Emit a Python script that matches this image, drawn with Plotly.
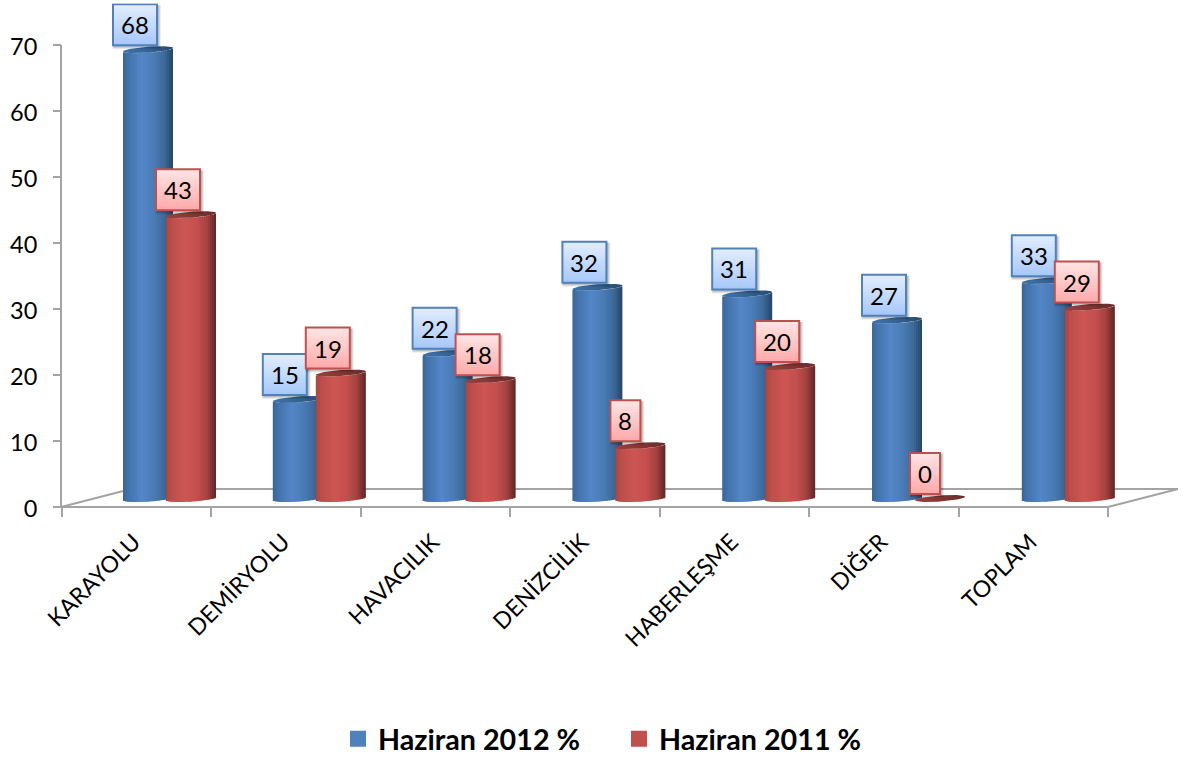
import numpy as np
import plotly.graph_objects as go

categories = ["KARAYOLU", "DEMİRYOLU", "HAVACILIK", "DENİZCİLİK", "HABERLEŞME", "DİĞER", "TOPLAM"]
values_2012 = [68, 15, 22, 32, 31, 27, 33]
values_2011 = [43, 19, 18, 8, 20, 0, 29]
series_names = ["Haziran 2012 %", "Haziran 2011 %"]
y_ticks = [0, 10, 20, 30, 40, 50, 60, 70]

W, H = 1184, 758
FONT = "Lato"
GRAY = "#a3a3a3"
X_UNIT, Y_UNIT = 149.8, 6.6
BAR_W = 50
N_STRIPS = 25
Y2_MIN, Y2_MAX = -1, 75


def lerp_color(stops, t):
    xs = [s[0] for s in stops]
    chans = [np.interp(t, xs, [int(s[1][i:i + 2], 16) for s in stops]) for i in (1, 3, 5)]
    return "rgb(%d,%d,%d)" % tuple(int(round(c)) for c in chans)


BLUE_STOPS = [(0, "#3a6698"), (0.12, "#4474ac"), (0.38, "#5486c8"), (0.62, "#4a7bb6"), (0.82, "#3d6a9b"), (1, "#274564")]
RED_STOPS = [(0, "#a84644"), (0.12, "#bd4e4b"), (0.38, "#cd5653"), (0.62, "#c44f4d"), (0.82, "#a44240"), (1, "#5a2725")]
BLUE_CAP = [[0, "#3f72ac"], [0.5, "#346396"], [1, "#264a70"]]
RED_CAP = [[0, "#9c3f3d"], [0.5, "#843634"], [1, "#672b29"]]


def arc_px(u):
    return 1.75 * u - 3.0 * np.sqrt(np.clip(1 - u * u, 0, 1))


fig = go.Figure()

# axis-carrying trace
fig.add_trace(go.Scatter(x=categories, y=[None] * 7, mode="markers", showlegend=False,
                         hoverinfo="skip", xaxis="x", yaxis="y"))
for name, c in zip(series_names, ["#4f81bd", "#c0504d"]):
    fig.add_trace(go.Scatter(x=[categories[0]], y=[None], mode="markers", name=name,
                             marker=dict(symbol="square", size=17, color=c), xaxis="x", yaxis="y"))

series = [(values_2012, -21.5, BLUE_STOPS, BLUE_CAP, 1), (values_2011, 21.5, RED_STOPS, RED_CAP, 3)]
idx = np.arange(len(categories), dtype=float)
for vals, dx_px, stops, cap, z in series:
    strip_w = BAR_W / N_STRIPS
    for k in range(N_STRIPS):
        left_px = dx_px - BAR_W / 2 + k * strip_w
        u = (left_px + strip_w / 2 - dx_px) / (BAR_W / 2)
        extra = 1.5 if k < N_STRIPS - 1 else 0
        fig.add_trace(go.Bar(
            x=idx, y=vals, base=[arc_px(u) / Y_UNIT] * len(vals),
            width=(strip_w + extra) / X_UNIT, offset=left_px / X_UNIT,
            marker=dict(color=lerp_color(stops, (k + 0.5) / N_STRIPS), line=dict(width=0)),
            showlegend=False, hoverinfo="skip", cliponaxis=False, zorder=z,
            xaxis="x2", yaxis="y2"))
    t = np.linspace(0, 2 * np.pi, 61)
    for i, v in enumerate(vals):
        fig.add_trace(go.Scatter(
            x=i + (dx_px + BAR_W / 2 * np.cos(t)) / X_UNIT,
            y=v + (1.75 * np.cos(t) + 3.0 * np.sin(t)) / Y_UNIT,
            mode="lines", line=dict(width=0), fill="toself",
            fillgradient=dict(type="horizontal", colorscale=cap),
            showlegend=False, hoverinfo="skip", cliponaxis=False, zorder=z + 1,
            xaxis="x2", yaxis="y2"))

# floor and axis lines
shapes = [dict(type="path", xref="paper", yref="paper", layer="below",
               path="M %f %f L %f %f L %f %f" % (61 / W, 1 - 507 / H, 131 / W, 1 - 489 / H, 1178 / W, 1 - 489 / H),
               line=dict(color=GRAY, width=2)),
          dict(type="path", xref="paper", yref="paper", layer="below",
               path="M %f %f L %f %f L %f %f L %f %f" % (61 / W, 1 - 45 / H, 61 / W, 1 - 507 / H,
                                                          1108 / W, 1 - 507 / H, 1178 / W, 1 - 489 / H),
               line=dict(color=GRAY, width=2))]

# value labels
annotations = []
BOX_STYLES = [("#4f81bd", "#e3eeff", "#a6c7fa"), ("#c0504d", "#ffe6e6", "#ffa8a8")]
BOX_H = 41
for (vals, dx_px, _, _, _), (border, top, bottom) in zip(series, BOX_STYLES):
    for i, v in enumerate(vals):
        w = 44 if v >= 10 else 30
        cx = dx_px - (13 if v >= 10 else 15)
        anchor = dict(xref="x2", yref="y2", xsizemode="pixel", ysizemode="pixel",
                      xanchor=float(i), yanchor=float(v), layer="above")
        for off, alpha in ((3, 0.07), (2, 0.10), (1, 0.12)):
            shapes.append(dict(type="rect", x0=cx - w / 2 + 1 - off / 2, x1=cx + w / 2 + 1 + off,
                               y0=4.5 - off - 1, y1=4.5 + BOX_H - 1,
                               fillcolor="rgba(0,0,0,%g)" % alpha, line=dict(width=0), **anchor))
        bands = 14
        for b in range(bands):
            ext = 1.5 if b < bands - 1 else 0
            shapes.append(dict(type="rect", x0=cx - w / 2, x1=cx + w / 2,
                               y0=4.5 + BOX_H * (1 - (b + 1) / bands) - ext, y1=4.5 + BOX_H * (1 - b / bands),
                               fillcolor=lerp_color([(0, top), (1, bottom)], (b + 0.5) / bands),
                               line=dict(width=0), **anchor))
        shapes.append(dict(type="rect", x0=cx - w / 2, x1=cx + w / 2, y0=4.5, y1=4.5 + BOX_H,
                           fillcolor="rgba(0,0,0,0)", line=dict(color=border, width=2), **anchor))
        annotations.append(dict(text=str(v), xref="x2", yref="y2", x=float(i), y=float(v),
                                xshift=cx, yshift=4.5 + BOX_H / 2, showarrow=False,
                                xanchor="center", yanchor="middle",
                                font=dict(family=FONT, size=24, color="black")))

fig.update_layout(
    width=W, height=H, margin=dict(l=0, r=0, t=0, b=0, autoexpand=False),
    paper_bgcolor="white", plot_bgcolor="rgba(0,0,0,0)",
    barmode="overlay", shapes=shapes, annotations=annotations,
    font=dict(family=FONT, color="black"),
    xaxis=dict(domain=[62 / W, 1108 / W], type="category", categoryorder="array", categoryarray=categories,
               range=[-0.5, 6.5], tickson="boundaries", ticks="outside", ticklen=9, tickwidth=2, tickcolor=GRAY,
               showline=False, showgrid=False, tickangle=-45,
               ticklabelstandoff=16, ticklabelshift=-3, automargin=False,
               tickfont=dict(family=FONT, size=23, color="black"), anchor="y", zeroline=False),
    yaxis=dict(domain=[1 - 507 / H, 1 - 45 / H], range=[0, 70], tickvals=y_ticks,
               ticks="outside", ticklen=8, tickwidth=2, tickcolor=GRAY,
               showline=False, showgrid=False, zeroline=False,
               ticklabelstandoff=11, ticklabelshift=2, automargin=False,
               tickfont=dict(family=FONT, size=23.5, color="black"), anchor="x"),
    xaxis2=dict(domain=[94.6 / W, (94.6 + 7 * X_UNIT) / W], range=[-0.5, 6.5], visible=False,
                anchor="y2", showgrid=False),
    yaxis2=dict(domain=[1 - (498.5 - Y2_MIN * Y_UNIT) / H, 1 - (498.5 - Y2_MAX * Y_UNIT) / H],
                range=[Y2_MIN, Y2_MAX], visible=False, anchor="x2", showgrid=False),
    legend=dict(orientation="h", xanchor="center", x=619 / W, yanchor="middle", y=1 - 739 / H,
                font=dict(family=FONT, size=28.7, color="black", weight="bold"),
                entrywidth=236, entrywidthmode="pixels",
                itemsizing="trace", itemclick=False, itemdoubleclick=False, bgcolor="rgba(0,0,0,0)"),
)
fig.write_html("out.html", config=dict(displayModeBar=False),
               post_script="document.body.style.margin='0';document.body.style.overflow='hidden';")
